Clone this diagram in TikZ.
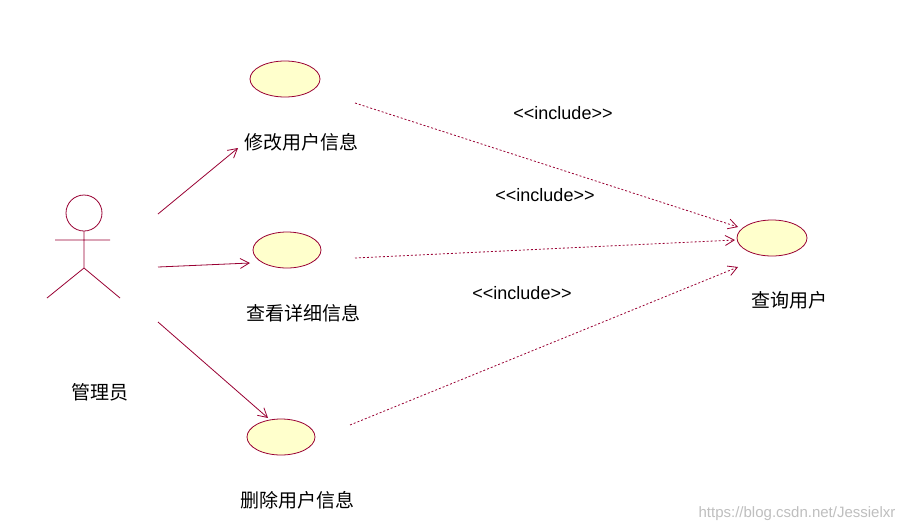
\documentclass[tikz,border=0pt]{standalone}
\usepackage{fontspec}
\setmainfont{Liberation Sans}
\newfontfamily\cjk{Noto Sans CJK SC}
\usetikzlibrary{arrows.meta,shapes.geometric}
\definecolor{uml}{HTML}{990033}
\definecolor{ucfill}{HTML}{FFFFCC}
\begin{document}
\begin{tikzpicture}[x=1pt,y=-1pt,
  uc/.style={draw=uml,fill=ucfill,ellipse,minimum width=68pt,minimum height=36pt,line width=0.8pt,inner sep=0},
  lab/.style={font=\cjk\fontsize{19}{22}\selectfont},
  inc/.style={font=\fontsize{18}{21}\selectfont},
  assoc/.style={draw=uml,line width=0.8pt,-{Straight Barb[length=9pt,width=10pt]}},
  dep/.style={draw=uml,line width=0.8pt,dash pattern=on 2pt off 2pt,-{Straight Barb[length=9pt,width=10pt]}}]
\useasboundingbox (0,0) rectangle (917,531);
\fill[white] (0,0) rectangle (917,531);
% actor
\draw[uml,line width=0.8pt] (84,213) circle (18);
\draw[uml,line width=0.8pt] (84,231) -- (84,268) (55,240) -- (110,240) (47,298) -- (84,268) -- (120,298);
\node[lab] (admin) at (100,392) {管理员};
% use cases
\node[uc,minimum width=70pt] (u1) at (285,79) {};
\node[uc] (u2) at (287,250) {};
\node[uc] (u3) at (281,437) {};
\node[uc,minimum width=70pt] (u4) at (772,238) {};
\node[lab] (l1) at (301,142) {修改用户信息};
\node[lab] (l2) at (303,313) {查看详细信息};
\node[lab] (l3) at (297,500) {删除用户信息};
\node[lab] (l4) at (789,300) {查询用户};
% associations
\coordinate (a1) at (158,214); \coordinate (e1) at (238,148);
\coordinate (a2) at (158,267); \coordinate (e2) at (250,263);
\coordinate (a3) at (158,322); \coordinate (e3) at (268,418);
\draw[assoc] (a1) -- (e1);
\draw[assoc] (a2) -- (e2);
\draw[assoc] (a3) -- (e3);
% includes
\coordinate (s1) at (355,103); \coordinate (t1) at (738,227);
\coordinate (s2) at (355,258); \coordinate (t2) at (735,240);
\coordinate (s3) at (350,425); \coordinate (t3) at (738,267);
\draw[dep] (s1) -- (t1);
\draw[dep] (s2) -- (t2);
\draw[dep] (s3) -- (t3);
\node[inc] (i1) at (563,113) {<{}<include>{}>};
\node[inc] (i2) at (545,195) {<{}<include>{}>};
\node[inc] (i3) at (522,293) {<{}<include>{}>};
\node[font=\fontsize{15}{17}\selectfont,text=black!25] (wm) at (797,514) {https://blog.csdn.net/Jessielxr};
\end{tikzpicture}
\end{document}
